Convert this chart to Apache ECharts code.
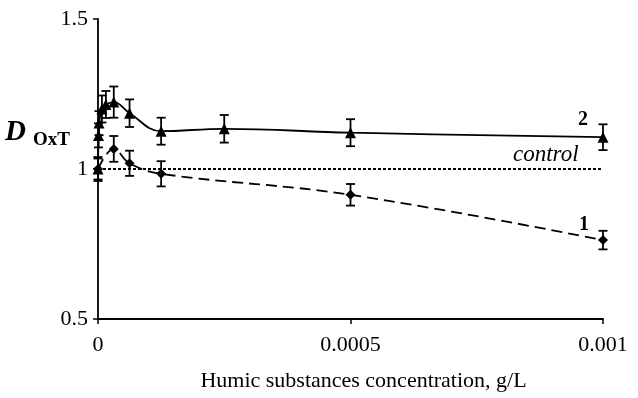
<!DOCTYPE html>
<html>
<head>
<meta charset="utf-8">
<script src="https://cdn.jsdelivr.net/npm/echarts@6/dist/echarts.min.js"></script>
<style>
  html, body { margin: 0; padding: 0; background: #fff; }
  #chart { width: 638px; height: 398px; }
</style>
</head>
<body>
<div id="chart"></div>
<script>
// concentrations, g/L
const conc2 = [0, 0.000001, 0.000002, 0.0000078, 0.0000156, 0.00003125, 0.0000625, 0.000125, 0.00025, 0.0005, 0.001];
const dox2 = [1.0, 1.112, 1.153, 1.20, 1.215, 1.223, 1.186, 1.126, 1.134, 1.121, 1.106];
const err2 = [0.035, 0.04, 0.04, 0.045, 0.045, 0.052, 0.046, 0.045, 0.046, 0.045, 0.043];

const conc1 = [0, 0.00003125, 0.0000625, 0.000125, 0.0005, 0.001];
const dox1 = [1.0, 1.067, 1.019, 0.984, 0.914, 0.763];
const err1 = [0.04, 0.043, 0.042, 0.042, 0.036, 0.031];

const controlX = [0, 0.001];
const controlY = [1, 1];

const xTickLabels = { 0: '0', 0.0005: '0.0005', 0.001: '0.001' };

const serif = '"Liberation Serif", "DejaVu Serif", serif';

function pairs(xs, ys) {
  return xs.map((x, i) => [x, ys[i]]);
}

// error bar rows: [x, low, high]
function errRows(xs, ys, es) {
  return xs.map((x, i) => [x, ys[i] - es[i], ys[i] + es[i]]);
}

function renderErr(params, api) {
  const x = api.value(0);
  const lo = api.coord([x, api.value(1)]);
  const hi = api.coord([x, api.value(2)]);
  const cap = 4.5;
  const style = { stroke: '#000', lineWidth: 1.8 };
  return {
    type: 'group',
    children: [
      { type: 'line', shape: { x1: lo[0], y1: lo[1], x2: hi[0], y2: hi[1] }, style: style },
      { type: 'line', shape: { x1: lo[0] - cap, y1: lo[1], x2: lo[0] + cap, y2: lo[1] }, style: style },
      { type: 'line', shape: { x1: hi[0] - cap, y1: hi[1], x2: hi[0] + cap, y2: hi[1] }, style: style }
    ]
  };
}

const chart = echarts.init(document.getElementById('chart'));
chart.setOption({
  animation: false,
  backgroundColor: '#fff',
  grid: { left: 98, right: 35, top: 19, bottom: 79 },
  xAxis: {
    type: 'value',
    min: 0, max: 0.001, interval: 0.0005,
    name: 'Humic substances concentration, g/L',
    nameLocation: 'middle',
    nameGap: 51,
    nameTextStyle: { fontFamily: serif, fontSize: 22, color: '#000', padding: [0, 0, 0, 26] },
    axisLine: { show: true, lineStyle: { color: '#000', width: 1.8 } },
    axisTick: { show: true, length: 5, lineStyle: { color: '#000', width: 1.5 } },
    axisLabel: {
      fontFamily: serif, fontSize: 22, color: '#000', margin: 15,
      formatter: v => xTickLabels[v] !== undefined ? xTickLabels[v] : ''
    },
    splitLine: { show: false }
  },
  yAxis: {
    type: 'value',
    min: 0.5, max: 1.5, interval: 0.5,
    axisLine: { show: true, lineStyle: { color: '#000', width: 1.8 } },
    axisTick: { show: true, length: 5, lineStyle: { color: '#000', width: 1.5 } },
    axisLabel: { fontFamily: serif, fontSize: 22, color: '#000', margin: 10 },
    splitLine: { show: false }
  },
  graphic: [
    {
      type: 'text', left: 5, top: 118,
      style: { text: 'D', font: 'italic bold 29px ' + serif, fill: '#000' }
    },
    {
      type: 'text', left: 33, top: 131,
      style: { text: 'OxT', font: 'bold 19px ' + serif, fill: '#000' }
    },
    {
      type: 'text', left: 578, top: 110,
      style: { text: '2', font: 'bold 20px ' + serif, fill: '#000' }
    },
    {
      type: 'text', left: 513, top: 143,
      style: { text: 'control', font: 'italic 23px ' + serif, fill: '#000' }
    },
    {
      type: 'text', left: 579, top: 215,
      style: { text: '1', font: 'bold 20px ' + serif, fill: '#000' }
    }
  ],
  series: [
    {
      name: 'control',
      type: 'line',
      data: pairs(controlX, controlY),
      symbol: 'none',
      lineStyle: { color: '#000', width: 1.8, type: [3, 2] },
      z: 1
    },
    {
      name: '2',
      type: 'line',
      data: pairs(conc2, dox2),
      smooth: 0.4,
      symbol: 'triangle',
      symbolSize: 11,
      itemStyle: { color: '#000' },
      lineStyle: { color: '#000', width: 1.8 },
      z: 3
    },
    {
      name: '1',
      type: 'line',
      data: pairs(conc1, dox1),
      smooth: 0.4,
      symbol: 'diamond',
      symbolSize: 10,
      itemStyle: { color: '#000' },
      lineStyle: { color: '#000', width: 1.8, type: [11, 6] },
      z: 3
    },
    {
      type: 'custom',
      renderItem: renderErr,
      data: errRows(conc2, dox2, err2),
      encode: { x: 0, y: [1, 2] },
      z: 4
    },
    {
      type: 'custom',
      renderItem: renderErr,
      data: errRows(conc1, dox1, err1),
      encode: { x: 0, y: [1, 2] },
      z: 4
    }
  ]
});
</script>
</body>
</html>
